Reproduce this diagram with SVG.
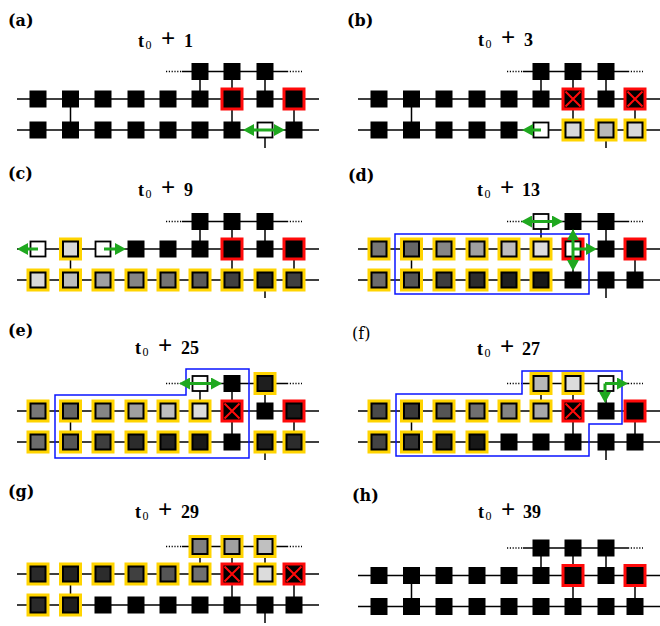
<svg xmlns="http://www.w3.org/2000/svg" xmlns:xlink="http://www.w3.org/1999/xlink" width="660" height="626" viewBox="0 0 660 626">
<style>
.ln{stroke:#000;stroke-width:1.5;fill:none}
.dt{stroke:#000;stroke-width:1.5;stroke-dasharray:1.2 1.6;fill:none}
.gr{stroke:#1fa81f;stroke-width:3;fill:none}
.bl{stroke:#0a14ff;stroke-width:1.5;fill:none}
.lab{font-family:"DejaVu Serif",serif;font-weight:bold;font-size:16px}
.labn{font-family:"DejaVu Serif",serif;font-size:16px}
.ttl{font-family:"Liberation Serif","Times New Roman",serif;font-weight:bold;font-size:18px}
.sub{font-weight:normal;font-size:12px}
.pl{font-size:25px}
</style>
<defs>
<rect id="B" x="-8.5" y="-8.5" width="17" height="17" fill="#000"/>
<rect id="Y" x="-11.5" y="-11.5" width="23" height="23" fill="#ffd400"/>
<rect id="R" x="-11.5" y="-11.5" width="23" height="23" fill="#ff0a0a"/>
<rect id="G" x="-7.5" y="-7.5" width="15" height="15" stroke="#000" stroke-width="2"/>
<path id="X" d="M-7.5,-7.5L7.5,7.5M7.5,-7.5L-7.5,7.5" stroke="#ff0a0a" stroke-width="2"/>
<g id="nB"><use href="#B"/></g>
<g id="nR"><use href="#R"/><use href="#B"/></g>
<g id="nX"><use href="#R"/><use href="#B"/><use href="#X"/></g>
<g id="nW"><rect x="-7.5" y="-7.5" width="15" height="15" fill="#fff" stroke="#000" stroke-width="1.8"/></g>
<g id="nY"><use href="#Y"/><use href="#G"/></g>
<marker id="ah" viewBox="0 0 11 12" refX="4" refY="6" markerWidth="11" markerHeight="12" markerUnits="userSpaceOnUse" orient="auto-start-reverse">
<path d="M0,0L11,6L0,12z" fill="#1fa81f"/>
</marker>
</defs>
<rect width="660" height="626" fill="#fff"/>

<!-- (a) -->
<g id="panel-a">
<text class="lab" x="8" y="25.5">(a)</text>
<text class="ttl" x="138" y="46.5">t<tspan class="sub" x="145.5" dy="2">0</tspan><tspan class="pl" x="161" dy="-2">+</tspan><tspan x="184">1</tspan></text>
<g id="a-connectors">
<path class="ln" d="M17,99H319M17,130H319M182,71.5H287M70.5,99V130M200,71.5V99M232,71.5V130M265,71.5V99M294,99V130M265,130V148"/>
<path class="dt" d="M166,71.5H182M287,71.5H302"/>
</g>
<g id="a-t6"><use href="#nB" x="200" y="71.5"/></g>
<g id="a-t7"><use href="#nB" x="232" y="71.5"/></g>
<g id="a-t8"><use href="#nB" x="265" y="71.5"/></g>
<g id="a-m1"><use href="#nB" x="38" y="99"/></g>
<g id="a-m2"><use href="#nB" x="70.5" y="99"/></g>
<g id="a-m3"><use href="#nB" x="103" y="99"/></g>
<g id="a-m4"><use href="#nB" x="136" y="99"/></g>
<g id="a-m5"><use href="#nB" x="168" y="99"/></g>
<g id="a-m6"><use href="#nB" x="200" y="99"/></g>
<g id="a-m7"><use href="#nR" x="232" y="99"/></g>
<g id="a-m8"><use href="#nB" x="265" y="99"/></g>
<g id="a-m9"><use href="#nR" x="294" y="99"/></g>
<g id="a-b1"><use href="#nB" x="38" y="130"/></g>
<g id="a-b2"><use href="#nB" x="70.5" y="130"/></g>
<g id="a-b3"><use href="#nB" x="103" y="130"/></g>
<g id="a-b4"><use href="#nB" x="136" y="130"/></g>
<g id="a-b5"><use href="#nB" x="168" y="130"/></g>
<g id="a-b6"><use href="#nB" x="200" y="130"/></g>
<g id="a-b7"><use href="#nB" x="232" y="130"/></g>
<g id="a-b8"><use href="#nW" x="265" y="130"/></g>
<g id="a-b9"><use href="#nB" x="294" y="130"/></g>
<g id="a-moves"><path class="gr" d="M250,130H278" marker-start="url(#ah)" marker-end="url(#ah)"/></g>
</g>

<!-- (b) -->
<g id="panel-b">
<text class="lab" x="347" y="25.5">(b)</text>
<text class="ttl" x="478" y="46">t<tspan class="sub" x="485.5" dy="2">0</tspan><tspan class="pl" x="501" dy="-2">+</tspan><tspan x="524">3</tspan></text>
<g transform="translate(341,0)">
<g id="b-connectors">
<path class="ln" d="M17,99H319M17,130H319M182,71.5H287M70.5,99V130M200,71.5V99M232,71.5V130M265,71.5V99M294,99V130M265,130V148"/>
<path class="dt" d="M166,71.5H182M287,71.5H302"/>
</g>
<g id="b-t6"><use href="#nB" x="200" y="71.5"/></g>
<g id="b-t7"><use href="#nB" x="232" y="71.5"/></g>
<g id="b-t8"><use href="#nB" x="265" y="71.5"/></g>
<g id="b-m1"><use href="#nB" x="38" y="99"/></g>
<g id="b-m2"><use href="#nB" x="70.5" y="99"/></g>
<g id="b-m3"><use href="#nB" x="103" y="99"/></g>
<g id="b-m4"><use href="#nB" x="136" y="99"/></g>
<g id="b-m5"><use href="#nB" x="168" y="99"/></g>
<g id="b-m6"><use href="#nB" x="200" y="99"/></g>
<g id="b-m7"><use href="#nX" x="232" y="99"/></g>
<g id="b-m8"><use href="#nB" x="265" y="99"/></g>
<g id="b-m9"><use href="#nX" x="294" y="99"/></g>
<g id="b-b1"><use href="#nB" x="38" y="130"/></g>
<g id="b-b2"><use href="#nB" x="70.5" y="130"/></g>
<g id="b-b3"><use href="#nB" x="103" y="130"/></g>
<g id="b-b4"><use href="#nB" x="136" y="130"/></g>
<g id="b-b5"><use href="#nB" x="168" y="130"/></g>
<g id="b-b6"><use href="#nW" x="200" y="130"/></g>
<g id="b-b7"><use href="#nY" x="232" y="130" fill="#d8d8d8"/></g>
<g id="b-b8"><use href="#nY" x="265" y="130" fill="#b8b8b8"/></g>
<g id="b-b9"><use href="#nY" x="294" y="130" fill="#d8d8d8"/></g>
<g id="b-moves"><path class="gr" d="M200,130H188" marker-end="url(#ah)"/></g>
</g>
</g>

<!-- (c) -->
<g id="panel-c">
<text class="lab" x="8" y="178.5">(c)</text>
<text class="ttl" x="138" y="196">t<tspan class="sub" x="145.5" dy="2">0</tspan><tspan class="pl" x="161" dy="-2">+</tspan><tspan x="184">9</tspan></text>
<g transform="translate(0,150)">
<g id="c-connectors">
<path class="ln" d="M17,99H319M17,130H319M182,71.5H287M70.5,99V130M200,71.5V99M232,71.5V130M265,71.5V99M294,99V130M265,130V148"/>
<path class="dt" d="M166,71.5H182M287,71.5H302"/>
</g>
<g id="c-t6"><use href="#nB" x="200" y="71.5"/></g>
<g id="c-t7"><use href="#nB" x="232" y="71.5"/></g>
<g id="c-t8"><use href="#nB" x="265" y="71.5"/></g>
<g id="c-m1"><use href="#nW" x="38" y="99"/></g>
<g id="c-m2"><use href="#nY" x="70.5" y="99" fill="#d8d8d8"/></g>
<g id="c-m3"><use href="#nW" x="103" y="99"/></g>
<g id="c-m4"><use href="#nB" x="136" y="99"/></g>
<g id="c-m5"><use href="#nB" x="168" y="99"/></g>
<g id="c-m6"><use href="#nB" x="200" y="99"/></g>
<g id="c-m7"><use href="#nR" x="232" y="99"/></g>
<g id="c-m8"><use href="#nB" x="265" y="99"/></g>
<g id="c-m9"><use href="#nR" x="294" y="99"/></g>
<g id="c-b1"><use href="#nY" x="38" y="130" fill="#d8d8d8"/></g>
<g id="c-b2"><use href="#nY" x="70.5" y="130" fill="#bcbcbc"/></g>
<g id="c-b3"><use href="#nY" x="103" y="130" fill="#a0a0a0"/></g>
<g id="c-b4"><use href="#nY" x="136" y="130" fill="#858585"/></g>
<g id="c-b5"><use href="#nY" x="168" y="130" fill="#747474"/></g>
<g id="c-b6"><use href="#nY" x="200" y="130" fill="#5a5a5a"/></g>
<g id="c-b7"><use href="#nY" x="232" y="130" fill="#404040"/></g>
<g id="c-b8"><use href="#nY" x="265" y="130" fill="#262626"/></g>
<g id="c-b9"><use href="#nY" x="294" y="130" fill="#404040"/></g>
<g id="c-moves">
<path class="gr" d="M38,99H24" marker-end="url(#ah)"/>
<path class="gr" d="M104,99H119" marker-end="url(#ah)"/>
</g>
</g>
</g>

<!-- (d) -->
<g id="panel-d">
<text class="lab" x="348" y="180.5">(d)</text>
<text class="ttl" x="477" y="196">t<tspan class="sub" x="484.5" dy="2">0</tspan><tspan class="pl" x="500" dy="-2">+</tspan><tspan x="522">13</tspan></text>
<g transform="translate(341,150)">
<g id="d-connectors">
<path class="ln" d="M17,99H319M17,130H319M182,71.5H287M70.5,99V130M200,71.5V99M232,71.5V130M265,71.5V99M294,99V130M265,130V148"/>
<path class="dt" d="M166,71.5H182M287,71.5H302"/>
</g>
<g id="d-t6"><use href="#nW" x="200" y="71.5"/></g>
<g id="d-t7"><use href="#nB" x="232" y="71.5"/></g>
<g id="d-t8"><use href="#nB" x="265" y="71.5"/></g>
<g id="d-m1"><use href="#nY" x="38" y="99" fill="#777"/></g>
<g id="d-m2"><use href="#nY" x="70.5" y="99" fill="#666"/></g>
<g id="d-m3"><use href="#nY" x="103" y="99" fill="#868686"/></g>
<g id="d-m4"><use href="#nY" x="136" y="99" fill="#a0a0a0"/></g>
<g id="d-m5"><use href="#nY" x="168" y="99" fill="#bdbdbd"/></g>
<g id="d-m6"><use href="#nY" x="200" y="99" fill="#dcdcdc"/></g>
<g id="d-m7"><use href="#R" x="232" y="99"/><use href="#nW" x="232" y="99"/></g>
<g id="d-m8"><use href="#nB" x="265" y="99"/></g>
<g id="d-m9"><use href="#nR" x="294" y="99"/></g>
<g id="d-b1"><use href="#nY" x="38" y="130" fill="#6c6c6c"/></g>
<g id="d-b2"><use href="#nY" x="70.5" y="130" fill="#555"/></g>
<g id="d-b3"><use href="#nY" x="103" y="130" fill="#3e3e3e"/></g>
<g id="d-b4"><use href="#nY" x="136" y="130" fill="#2c2c2c"/></g>
<g id="d-b5"><use href="#nY" x="168" y="130" fill="#1f1f1f"/></g>
<g id="d-b6"><use href="#nY" x="200" y="130" fill="#181818"/></g>
<g id="d-b7"><use href="#nB" x="232" y="130"/></g>
<g id="d-b8"><use href="#nB" x="265" y="130"/></g>
<g id="d-b9"><use href="#nB" x="294" y="130"/></g>
<g id="d-region"><rect class="bl" x="54" y="84" width="194" height="60"/></g>
<g id="d-moves">
<path class="gr" d="M187,71.5H215" marker-start="url(#ah)" marker-end="url(#ah)"/>
<path class="gr" d="M232,86V114" marker-start="url(#ah)" marker-end="url(#ah)"/>
<path class="gr" d="M232,99H249" marker-end="url(#ah)"/>
</g>
</g>
</g>

<!-- (e) -->
<g id="panel-e">
<text class="lab" x="8" y="335.5">(e)</text>
<text class="ttl" x="135" y="354">t<tspan class="sub" x="142.5" dy="2">0</tspan><tspan class="pl" x="158" dy="-2">+</tspan><tspan x="181">25</tspan></text>
<g transform="translate(0,312)">
<g id="e-connectors">
<path class="ln" d="M17,99H319M17,130H319M182,71.5H287M70.5,99V130M200,71.5V99M232,71.5V130M265,71.5V99M294,99V130M265,130V148"/>
<path class="dt" d="M166,71.5H182M287,71.5H302"/>
</g>
<g id="e-t6"><use href="#nW" x="200" y="71.5"/></g>
<g id="e-t7"><use href="#nB" x="232" y="71.5"/></g>
<g id="e-t8"><use href="#nY" x="265" y="71.5" fill="#1e1e1e"/></g>
<g id="e-m1"><use href="#nY" x="38" y="99" fill="#777"/></g>
<g id="e-m2"><use href="#nY" x="70.5" y="99" fill="#666"/></g>
<g id="e-m3"><use href="#nY" x="103" y="99" fill="#868686"/></g>
<g id="e-m4"><use href="#nY" x="136" y="99" fill="#a0a0a0"/></g>
<g id="e-m5"><use href="#nY" x="168" y="99" fill="#bdbdbd"/></g>
<g id="e-m6"><use href="#nY" x="200" y="99" fill="#dcdcdc"/></g>
<g id="e-m7"><use href="#nX" x="232" y="99"/></g>
<g id="e-m8"><use href="#nB" x="265" y="99"/></g>
<g id="e-m9"><use href="#R" x="294" y="99"/><use href="#G" x="294" y="99" fill="#1a1a1a"/></g>
<g id="e-b1"><use href="#nY" x="38" y="130" fill="#6c6c6c"/></g>
<g id="e-b2"><use href="#nY" x="70.5" y="130" fill="#555"/></g>
<g id="e-b3"><use href="#nY" x="103" y="130" fill="#3e3e3e"/></g>
<g id="e-b4"><use href="#nY" x="136" y="130" fill="#2c2c2c"/></g>
<g id="e-b5"><use href="#nY" x="168" y="130" fill="#222"/></g>
<g id="e-b6"><use href="#nY" x="200" y="130" fill="#181818"/></g>
<g id="e-b7"><use href="#nB" x="232" y="130"/></g>
<g id="e-b8"><use href="#nY" x="265" y="130" fill="#1e1e1e"/></g>
<g id="e-b9"><use href="#nY" x="294" y="130" fill="#2c2c2c"/></g>
<g id="e-region"><path class="bl" d="M55,83H186V57H249V146H55Z"/></g>
<g id="e-moves"><path class="gr" d="M186,71.5H215" marker-start="url(#ah)" marker-end="url(#ah)"/></g>
</g>
</g>

<!-- (f) -->
<g id="panel-f">
<text class="labn" x="352" y="338.5">(f)</text>
<text class="ttl" x="477" y="355">t<tspan class="sub" x="484.5" dy="2">0</tspan><tspan class="pl" x="500" dy="-2">+</tspan><tspan x="522">27</tspan></text>
<g transform="translate(341,312)">
<g id="f-connectors">
<path class="ln" d="M17,99H319M17,130H319M182,71.5H287M70.5,99V130M200,71.5V99M232,71.5V130M265,71.5V99M294,99V130M265,130V148"/>
<path class="dt" d="M166,71.5H182M287,71.5H302"/>
</g>
<g id="f-t6"><use href="#nY" x="200" y="71.5" fill="#b8b8b8"/></g>
<g id="f-t7"><use href="#nY" x="232" y="71.5" fill="#dcdcdc"/></g>
<g id="f-t8"><use href="#nW" x="265" y="71.5"/></g>
<g id="f-m1"><use href="#nY" x="38" y="99" fill="#4a4a4a"/></g>
<g id="f-m2"><use href="#nY" x="70.5" y="99" fill="#3a3a3a"/></g>
<g id="f-m3"><use href="#nY" x="103" y="99" fill="#555"/></g>
<g id="f-m4"><use href="#nY" x="136" y="99" fill="#707070"/></g>
<g id="f-m5"><use href="#nY" x="168" y="99" fill="#848484"/></g>
<g id="f-m6"><use href="#nY" x="200" y="99" fill="#a8a8a8"/></g>
<g id="f-m7"><use href="#nX" x="232" y="99"/></g>
<g id="f-m8"><use href="#nB" x="265" y="99"/></g>
<g id="f-m9"><use href="#nR" x="294" y="99"/></g>
<g id="f-b1"><use href="#nY" x="38" y="130" fill="#444"/></g>
<g id="f-b2"><use href="#nY" x="70.5" y="130" fill="#333"/></g>
<g id="f-b3"><use href="#nY" x="103" y="130" fill="#222"/></g>
<g id="f-b4"><use href="#nY" x="136" y="130" fill="#181818"/></g>
<g id="f-b5"><use href="#nB" x="168" y="130"/></g>
<g id="f-b6"><use href="#nB" x="200" y="130"/></g>
<g id="f-b7"><use href="#nB" x="232" y="130"/></g>
<g id="f-b8"><use href="#nB" x="265" y="130"/></g>
<g id="f-b9"><use href="#nB" x="294" y="130"/></g>
<g id="f-region"><path class="bl" d="M55,82H181V59H281V112H248V144H55Z"/></g>
<g id="f-moves">
<path class="gr" d="M264,71.5H280" marker-end="url(#ah)"/>
<path class="gr" d="M264,71.5V84" marker-end="url(#ah)"/>
</g>
</g>
</g>

<!-- (g) -->
<g id="panel-g">
<text class="lab" x="8" y="497">(g)</text>
<text class="ttl" x="135" y="518">t<tspan class="sub" x="142.5" dy="2">0</tspan><tspan class="pl" x="158" dy="-2">+</tspan><tspan x="181">29</tspan></text>
<g transform="translate(0,475)">
<g id="g-connectors">
<path class="ln" d="M17,99H319M17,130H319M182,71.5H287M70.5,99V130M200,71.5V99M232,71.5V130M265,71.5V99M294,99V130M265,130V148"/>
<path class="dt" d="M166,71.5H182M287,71.5H302"/>
</g>
<g id="g-t6"><use href="#nY" x="200" y="71.5" fill="#808080"/></g>
<g id="g-t7"><use href="#nY" x="232" y="71.5" fill="#a0a0a0"/></g>
<g id="g-t8"><use href="#nY" x="265" y="71.5" fill="#c0c0c0"/></g>
<g id="g-m1"><use href="#nY" x="38" y="99" fill="#2a2a2a"/></g>
<g id="g-m2"><use href="#nY" x="70.5" y="99" fill="#222"/></g>
<g id="g-m3"><use href="#nY" x="103" y="99" fill="#2c2c2c"/></g>
<g id="g-m4"><use href="#nY" x="136" y="99" fill="#404040"/></g>
<g id="g-m5"><use href="#nY" x="168" y="99" fill="#555"/></g>
<g id="g-m6"><use href="#nY" x="200" y="99" fill="#707070"/></g>
<g id="g-m7"><use href="#nX" x="232" y="99"/></g>
<g id="g-m8"><use href="#nY" x="265" y="99" fill="#dcdcdc"/></g>
<g id="g-m9"><use href="#nX" x="294" y="99"/></g>
<g id="g-b1"><use href="#nY" x="38" y="130" fill="#2a2a2a"/></g>
<g id="g-b2"><use href="#nY" x="70.5" y="130" fill="#1e1e1e"/></g>
<g id="g-b3"><use href="#nB" x="103" y="130"/></g>
<g id="g-b4"><use href="#nB" x="136" y="130"/></g>
<g id="g-b5"><use href="#nB" x="168" y="130"/></g>
<g id="g-b6"><use href="#nB" x="200" y="130"/></g>
<g id="g-b7"><use href="#nB" x="232" y="130"/></g>
<g id="g-b8"><use href="#nB" x="265" y="130"/></g>
<g id="g-b9"><use href="#nB" x="294" y="130"/></g>
</g>
</g>

<!-- (h) -->
<g id="panel-h">
<text class="lab" x="352" y="501">(h)</text>
<text class="ttl" x="478" y="518">t<tspan class="sub" x="485.5" dy="2">0</tspan><tspan class="pl" x="501" dy="-2">+</tspan><tspan x="523">39</tspan></text>
<g transform="translate(341,476.5)">
<g id="h-connectors">
<path class="ln" d="M17,99H319M17,130H319M182,71.5H287M70.5,99V130M200,71.5V99M232,71.5V130M265,71.5V99M294,99V130"/>
<path class="dt" d="M166,71.5H182M287,71.5H302"/>
</g>
<g id="h-t6"><use href="#nB" x="200" y="71.5"/></g>
<g id="h-t7"><use href="#nB" x="232" y="71.5"/></g>
<g id="h-t8"><use href="#nB" x="265" y="71.5"/></g>
<g id="h-m1"><use href="#nB" x="38" y="99"/></g>
<g id="h-m2"><use href="#nB" x="70.5" y="99"/></g>
<g id="h-m3"><use href="#nB" x="103" y="99"/></g>
<g id="h-m4"><use href="#nB" x="136" y="99"/></g>
<g id="h-m5"><use href="#nB" x="168" y="99"/></g>
<g id="h-m6"><use href="#nB" x="200" y="99"/></g>
<g id="h-m7"><use href="#nR" x="232" y="99"/></g>
<g id="h-m8"><use href="#nB" x="265" y="99"/></g>
<g id="h-m9"><use href="#nR" x="294" y="99"/></g>
<g id="h-b1"><use href="#nB" x="38" y="130"/></g>
<g id="h-b2"><use href="#nB" x="70.5" y="130"/></g>
<g id="h-b3"><use href="#nB" x="103" y="130"/></g>
<g id="h-b4"><use href="#nB" x="136" y="130"/></g>
<g id="h-b5"><use href="#nB" x="168" y="130"/></g>
<g id="h-b6"><use href="#nB" x="200" y="130"/></g>
<g id="h-b7"><use href="#nB" x="232" y="130"/></g>
<g id="h-b8"><use href="#nB" x="265" y="130"/></g>
<g id="h-b9"><use href="#nB" x="294" y="130"/></g>
</g>
</g>
</svg>
